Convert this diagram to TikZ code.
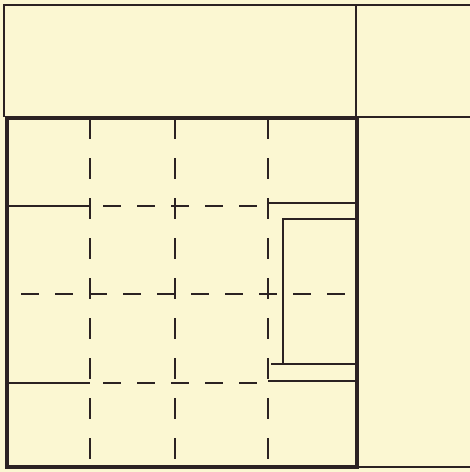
\documentclass[tikz,border=0pt]{standalone}
\usepackage{tikz}
\definecolor{paper}{HTML}{FBF7D2}
\definecolor{ink}{HTML}{2B2222}
\tikzset{
  wall/.style={ink, line width=3.4pt},
  thinwall/.style={ink, line width=2pt},
  vgrid/.style={ink, line width=2pt, dash pattern=on 21pt off 19pt},
  hgrid/.style={ink, line width=2pt, dash pattern=on 18pt off 16pt}
}

\begin{document}
\begin{tikzpicture}[x=1pt,y=-1pt]
% Sheet
\fill[paper] (0,0) rectangle (470,472);
\useasboundingbox (0,0) rectangle (470,472);

% Outer thin frame
\draw[thinwall] (4,117) -- (4,5) -- (470,5);
\draw[thinwall] (356,5) -- (356,118);
\draw[thinwall] (357,117) -- (470,117);
\draw[thinwall] (357,467) -- (470,467);

% Main square
\draw[wall] (7,118) rectangle (357,467);

% Dashed grid
\draw[vgrid] (90,118) -- (90,467);
\draw[vgrid] (175,118) -- (175,467);
\draw[vgrid] (268,118) -- (268,467);
\draw[hgrid, dash phase=21] (90,206) -- (268,206);
\draw[hgrid, dash phase=20] (7,294) -- (357,294);
\draw[hgrid, dash phase=21] (90,383) -- (268,383);

% Solid partitions
\draw[thinwall] (7,206) -- (90,206);
\draw[thinwall] (7,383) -- (90,383);
\draw[thinwall] (268,203) -- (357,203);
\draw[thinwall] (268,381) -- (357,381);

% Inner recess
\draw[thinwall] (357,219) -- (283,219) -- (283,364);
\draw[thinwall] (271,364) -- (357,364);

\end{tikzpicture}
\end{document}
